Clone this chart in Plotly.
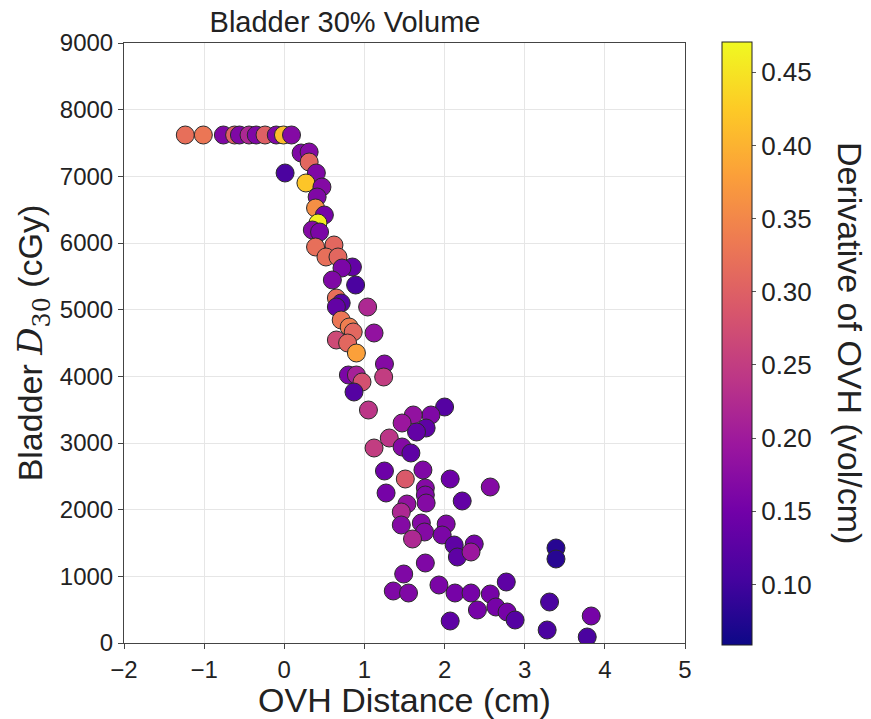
import plotly.graph_objects as go

# OVH distance (cm)
ovh_distance = [
    -1.235, -1.01, -0.76, -0.62, -0.56, -0.44, -0.35, -0.24, -0.10, -0.01, 0.09,
    0.21, 0.31, 0.31, 0.01, 0.40, 0.27, 0.47, 0.41, 0.39, 0.50, 0.42, 0.35, 0.44,
    0.39, 0.62, 0.52, 0.67, 0.85, 0.72, 0.60, 0.89, 0.65, 0.71, 0.65, 1.04,
    0.71, 0.81, 0.86, 1.12, 0.65, 0.79, 0.90, 1.25, 1.24, 0.80, 0.90, 0.97,
    0.87, 1.05, 2.00, 1.83, 1.61, 1.47, 1.77, 1.65, 1.31, 1.12, 1.47, 1.58,
    1.25, 1.73, 1.51, 2.07, 2.57, 1.76, 1.27, 1.76, 1.77, 2.22, 1.53, 1.46,
    1.46, 1.71, 1.75, 2.02, 1.97, 1.60, 2.12, 2.37, 2.16, 2.33, 3.39, 3.39,
    1.76, 1.49, 1.36, 1.55, 1.93, 2.13, 2.33, 2.57, 2.77, 2.41, 2.64, 2.78,
    2.88, 2.07, 3.31, 3.28, 3.83, 3.78,
]

# Bladder D30 (cGy)
bladder_d30 = [
    7620, 7620, 7620, 7620, 7620, 7620, 7620, 7620, 7620, 7620, 7620,
    7350, 7365, 7215, 7050, 7050, 6900, 6840, 6690, 6525, 6420, 6300, 6195, 6165,
    5940, 5970, 5790, 5790, 5640, 5625, 5445, 5370, 5175, 5100, 5040, 5040,
    4845, 4740, 4665, 4650, 4545, 4500, 4350, 4185, 3990, 4020, 4020, 3915,
    3765, 3495, 3540, 3420, 3420, 3300, 3225, 3165, 3075, 2925, 2940, 2850,
    2580, 2595, 2460, 2460, 2340, 2325, 2250, 2220, 2100, 2130, 2085, 1965,
    1770, 1800, 1665, 1785, 1620, 1560, 1470, 1485, 1290, 1365, 1425, 1260,
    1200, 1035, 780, 750, 870, 750, 750, 735, 915, 495, 540, 465,
    345, 330, 615, 195, 405, 90,
]

# Derivative of OVH (vol/cm)
ovh_derivative = [
    0.32, 0.33, 0.165, 0.30, 0.165, 0.22, 0.165, 0.30, 0.165, 0.41, 0.17,
    0.165, 0.17, 0.31, 0.11, 0.165, 0.42, 0.17, 0.165, 0.36, 0.155, 0.46, 0.17, 0.16,
    0.32, 0.31, 0.32, 0.31, 0.135, 0.16, 0.165, 0.11, 0.32, 0.12, 0.135, 0.22,
    0.33, 0.34, 0.31, 0.185, 0.27, 0.31, 0.38, 0.17, 0.25, 0.16, 0.21, 0.28,
    0.12, 0.24, 0.12, 0.165, 0.185, 0.195, 0.13, 0.135, 0.24, 0.25, 0.17, 0.13,
    0.145, 0.165, 0.29, 0.145, 0.17, 0.17, 0.155, 0.165, 0.17, 0.135, 0.185, 0.22,
    0.17, 0.17, 0.17, 0.165, 0.16, 0.22, 0.13, 0.155, 0.13, 0.195, 0.08, 0.08,
    0.165, 0.165, 0.165, 0.165, 0.16, 0.155, 0.155, 0.155, 0.13, 0.155, 0.155, 0.155,
    0.12, 0.13, 0.11, 0.11, 0.155, 0.11,
]

x_ticks = [-2, -1, 0, 1, 2, 3, 4, 5]
y_ticks = [0, 1000, 2000, 3000, 4000, 5000, 6000, 7000, 8000, 9000]
cbar_ticks = [0.10, 0.15, 0.20, 0.25, 0.30, 0.35, 0.40, 0.45]

FONT = "Liberation Sans, Arial, sans-serif"

fig = go.Figure()
fig.add_trace(go.Scatter(
    x=ovh_distance, y=bladder_d30, mode="markers",
    marker=dict(
        size=18, color=ovh_derivative, colorscale="Plasma",
        cmin=0.059, cmax=0.471,
        line=dict(color="#2a2a2a", width=1),
        colorbar=dict(
            x=(722 - 124) / 561, xanchor="left", xref="paper", xpad=0, ypad=0,
            y=0.5, yanchor="middle", len=1.005, lenmode="fraction",
            thickness=30, outlinecolor="#222", outlinewidth=1,
            tickvals=cbar_ticks, ticktext=[f"{v:.2f}" for v in cbar_ticks],
            ticks="outside", ticklen=4, tickcolor="#555",
            tickfont=dict(family=FONT, size=26, color="#222"),
        ),
    ),
    showlegend=False,
))

fig.update_layout(
    width=871, height=719,
    margin=dict(l=124, r=186, t=43, b=76, autoexpand=False),
    paper_bgcolor="white", plot_bgcolor="white",
    title=dict(text="Bladder 30% Volume", x=345 / 871, xanchor="center",
               y=1 - 22 / 719, yanchor="middle",
               font=dict(family=FONT, size=29, color="#222")),
    xaxis=dict(
        range=[-2, 5], tickvals=x_ticks, ticktext=[str(v).replace("-", "\u2212") for v in x_ticks],
        showgrid=True, gridcolor="#e6e6e6", gridwidth=1, zeroline=False,
        showline=True, linecolor="#444", linewidth=1, mirror=True,
        ticks="outside", ticklen=5, tickcolor="#444", automargin=False,
        tickfont=dict(family=FONT, size=24, color="#222"),
        title=dict(text="OVH Distance (cm)", font=dict(family=FONT, size=34, color="#222"), standoff=4),
    ),
    yaxis=dict(
        range=[0, 9000], tickvals=y_ticks, ticktext=[str(v) for v in y_ticks],
        showgrid=True, gridcolor="#e6e6e6", gridwidth=1, zeroline=False,
        showline=True, linecolor="#444", linewidth=1, mirror=True,
        ticks="outside", ticklen=5, tickcolor="#444", automargin=False,
        tickfont=dict(family=FONT, size=24, color="#222"),
        title=dict(
            text="Bladder <span style='font-family:DejaVu Serif'><i>D</i><sub>30</sub></span> (cGy)",
            font=dict(family=FONT, size=34, color="#222"), standoff=6),
    ),
    annotations=[dict(
        text="Derivative of OVH (vol/cm)", textangle=90,
        xref="paper", yref="paper", x=(850 - 124) / 561, y=(643 - 343) / 600,
        xanchor="center", yanchor="middle", showarrow=False,
        font=dict(family=FONT, size=34, color="#222"),
    )],
)

fig.write_html("out.html")
